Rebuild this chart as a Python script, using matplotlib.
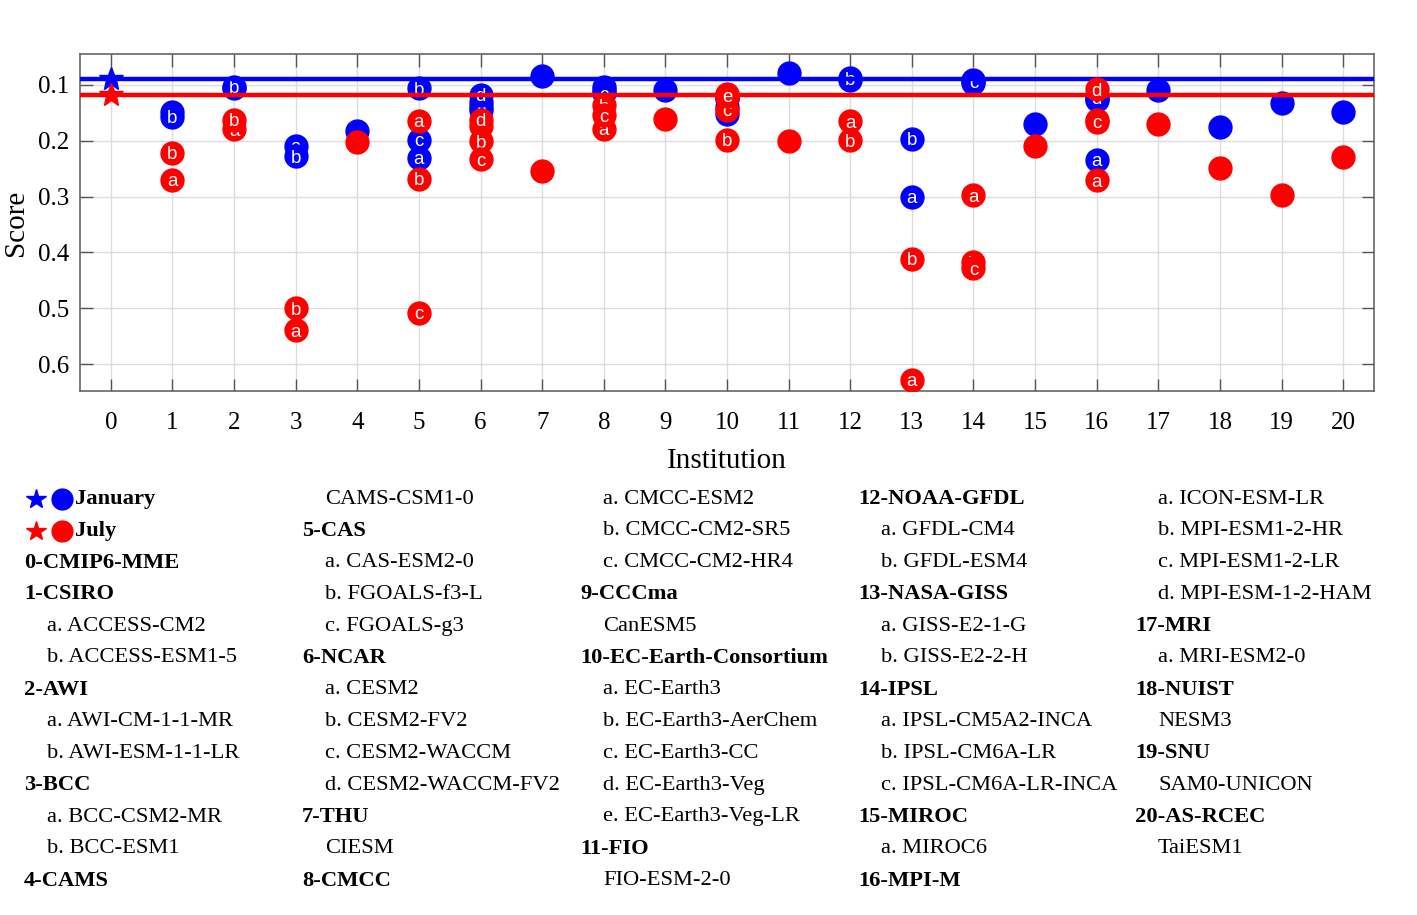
import numpy as np
import matplotlib
matplotlib.use("Agg")
import matplotlib.pyplot as plt

plt.rcParams['font.family'] = ['Liberation Serif', 'DejaVu Serif']

# CMIP6 multi-model ensemble scores
mme_jan = 0.090
mme_jul = 0.118

# per institution: model letters and scores (January / July)
institutions = list(range(1, 21))
letters = [
    ['a', 'b'], ['a', 'b'], ['a', 'b'], [''], ['a', 'b', 'c'],
    ['a', 'b', 'c', 'd'], [''], ['a', 'b', 'c'], [''], ['a', 'b', 'c', 'd', 'e'],
    [''], ['a', 'b'], ['a', 'b'], ['a', 'b', 'c'], [''],
    ['a', 'b', 'c', 'd'], [''], [''], [''], [''],
]
jan_scores = [
    [0.148, 0.157], [0.106, 0.104], [0.209, 0.228], [0.182], [0.231, 0.106, 0.198],
    [0.130, 0.140, 0.145, 0.118], [0.085], [0.104, 0.110, 0.115], [0.110],
    [0.125, 0.140, 0.152, 0.120, 0.118],
    [0.079], [0.092, 0.088], [0.300, 0.197], [0.096, 0.092, 0.094], [0.171],
    [0.234, 0.125, 0.128, 0.122], [0.109], [0.176], [0.132], [0.149],
]
jul_scores = [
    [0.270, 0.222], [0.180, 0.163], [0.539, 0.500], [0.203], [0.164, 0.268, 0.508],
    [0.174, 0.201, 0.233, 0.163], [0.254], [0.179, 0.137, 0.155], [0.161],
    [0.122, 0.198, 0.145, 0.117, 0.120],
    [0.201], [0.165, 0.199], [0.628, 0.411], [0.298, 0.418, 0.428], [0.209],
    [0.271, 0.163, 0.166, 0.108], [0.171], [0.249], [0.298], [0.229],
]

# legend text, 5 columns; (text, bold, indented)
legend_cols = [
    [None, None, ('0-CMIP6-MME', 1, 0), ('1-CSIRO', 1, 0), ('a. ACCESS-CM2', 0, 1),
     ('b. ACCESS-ESM1-5', 0, 1), ('2-AWI', 1, 0), ('a. AWI-CM-1-1-MR', 0, 1),
     ('b. AWI-ESM-1-1-LR', 0, 1), ('3-BCC', 1, 0), ('a. BCC-CSM2-MR', 0, 1),
     ('b. BCC-ESM1', 0, 1), ('4-CAMS', 1, 0)],
    [('CAMS-CSM1-0', 0, 1), ('5-CAS', 1, 0), ('a. CAS-ESM2-0', 0, 1),
     ('b. FGOALS-f3-L', 0, 1), ('c. FGOALS-g3', 0, 1), ('6-NCAR', 1, 0),
     ('a. CESM2', 0, 1), ('b. CESM2-FV2', 0, 1), ('c. CESM2-WACCM', 0, 1),
     ('d. CESM2-WACCM-FV2', 0, 1), ('7-THU', 1, 0), ('CIESM', 0, 1), ('8-CMCC', 1, 0)],
    [('a. CMCC-ESM2', 0, 1), ('b. CMCC-CM2-SR5', 0, 1), ('c. CMCC-CM2-HR4', 0, 1),
     ('9-CCCma', 1, 0), ('CanESM5', 0, 1), ('10-EC-Earth-Consortium', 1, 0),
     ('a. EC-Earth3', 0, 1), ('b. EC-Earth3-AerChem', 0, 1), ('c. EC-Earth3-CC', 0, 1),
     ('d. EC-Earth3-Veg', 0, 1), ('e. EC-Earth3-Veg-LR', 0, 1), ('11-FIO', 1, 0),
     ('FIO-ESM-2-0', 0, 1)],
    [('12-NOAA-GFDL', 1, 0), ('a. GFDL-CM4', 0, 1), ('b. GFDL-ESM4', 0, 1),
     ('13-NASA-GISS', 1, 0), ('a. GISS-E2-1-G', 0, 1), ('b. GISS-E2-2-H', 0, 1),
     ('14-IPSL', 1, 0), ('a. IPSL-CM5A2-INCA', 0, 1), ('b. IPSL-CM6A-LR', 0, 1),
     ('c. IPSL-CM6A-LR-INCA', 0, 1), ('15-MIROC', 1, 0), ('a. MIROC6', 0, 1),
     ('16-MPI-M', 1, 0)],
    [('a. ICON-ESM-LR', 0, 1), ('b. MPI-ESM1-2-HR', 0, 1), ('c. MPI-ESM1-2-LR', 0, 1),
     ('d. MPI-ESM-1-2-HAM', 0, 1), ('17-MRI', 1, 0), ('a. MRI-ESM2-0', 0, 1),
     ('18-NUIST', 1, 0), ('NESM3', 0, 1), ('19-SNU', 1, 0), ('SAM0-UNICON', 0, 1),
     ('20-AS-RCEC', 1, 0), ('TaiESM1', 0, 1)],
]

W, H = 1417, 915
fig = plt.figure(figsize=(W / 100, H / 100), dpi=100)
ax = fig.add_axes([80 / W, 1 - 391 / H, 1294 / W, 337 / H])

ax.axhline(mme_jan, color='#0000ff', lw=3.2, zorder=4)
ax.axhline(mme_jul, color='#ff0000', lw=3.2, zorder=4)
ax.plot(0, mme_jan, marker='*', color='#0000ff', ms=18, zorder=6)
ax.plot(0, mme_jul, marker='*', color='#ff0000', ms=18, zorder=6)


def draw_points(scores, color, z):
    for x, labs, vals in zip(institutions, letters, scores):
        for lab, v in zip(labs, vals):
            ax.plot(x, v, 'o', color=color, ms=16.5, mec=color, zorder=z)
            if lab:
                ax.text(x, v, lab, color='white', ha='center', va='center_baseline',
                        fontsize=13.5, family='Liberation Sans', zorder=z)
            z += 0.01


draw_points(jan_scores, '#0000ff', 3)
draw_points(jul_scores, '#ff0000', 5)

ax.set_xlim(-0.5, 20.5)
ax.set_ylim(0.648, 0.045)
ax.set_xticks(range(0, 21))
ax.set_yticks([0.1, 0.2, 0.3, 0.4, 0.5, 0.6])
ax.set_yticklabels(['0.1', '0.2', '0.3', '0.4', '0.5', '0.6'])
ax.grid(True, color='#dddddd', lw=1)
ax.set_axisbelow(True)
ax.tick_params(direction='in', length=9, width=1, color='#555555',
               top=True, right=True, labelsize=18)
ax.tick_params(axis='x', pad=15)
ax.tick_params(axis='y', pad=8)
for s in ax.spines.values():
    s.set_color('#666666')
    s.set_linewidth(1.2)
ax.set_xlabel('Institution', fontsize=21, labelpad=10)
ax.set_ylabel('Score', fontsize=21, labelpad=6)

# legend block
lax = fig.add_axes([0, 0, 1, 1])
lax.set_xlim(0, W)
lax.set_ylim(H, 0)
lax.axis('off')
col_x = [24, 302, 580, 858, 1135]
row_y = 499
row_dy = 31.8
fs = 16.2
for c, items in enumerate(col_x):
    for r, item in enumerate(legend_cols[c]):
        if item is None:
            continue
        txt, bold, ind = item
        lax.text(col_x[c] + (23 if ind else 0), row_y + r * row_dy, txt,
                 fontsize=fs, fontweight='bold' if bold else 'normal',
                 va='center', ha='left')

for r, (name, color) in enumerate([('January', '#0000ff'), ('July', '#ff0000')]):
    y = row_y + r * row_dy
    lax.plot(36, y, marker='*', color=color, ms=15)
    lax.plot(62, y, marker='o', color=color, ms=15)
    lax.text(75, y, name, fontsize=fs, fontweight='bold', va='center', ha='left')

fig.savefig('out.png', dpi=100)
